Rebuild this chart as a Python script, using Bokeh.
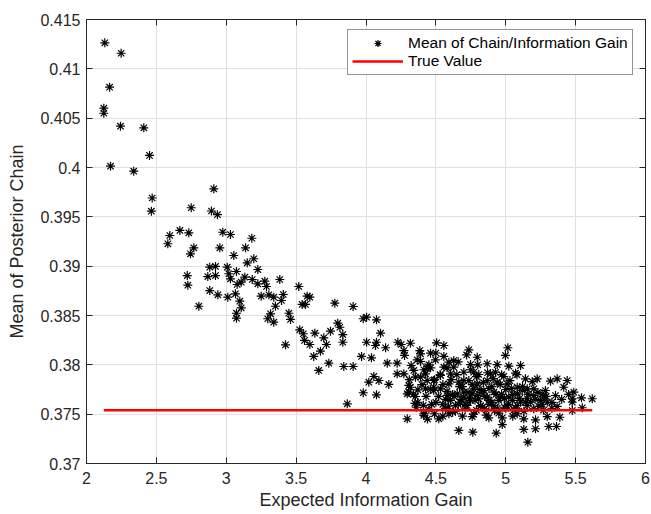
from bokeh.plotting import figure
from bokeh.models import LinearAxis, Range1d, FixedTicker, Legend, LegendItem
from bokeh.embed import file_html
from bokeh.resources import INLINE

# Expected information gain of each design and the posterior-chain mean it produced
eig = [
    2.131, 2.248, 2.165, 2.124, 2.124, 2.243, 2.410, 2.451, 2.172, 2.338,
    2.911, 2.470, 2.464, 2.749, 2.894, 2.937, 2.596, 2.582, 2.668, 2.732,
    2.975, 3.030, 3.183, 2.768, 2.744, 2.954, 3.138, 3.054, 3.197, 3.150,
    3.226, 2.882, 2.923, 3.007, 2.868, 2.923, 3.018, 3.073, 2.721, 2.725,
    3.030, 3.133, 3.078, 3.107, 3.186, 3.226, 3.276, 3.288, 3.383, 2.882,
    2.940, 3.011, 3.066, 3.097, 3.107, 3.073, 3.073, 2.804, 3.250, 3.305,
    3.340, 3.408, 3.395, 3.352, 3.317, 3.297, 3.340, 3.448, 3.460, 3.519,
    3.579, 3.598, 3.543, 3.567, 3.777, 3.908, 3.526, 3.551, 3.560, 3.634,
    3.698, 3.746, 3.798, 3.813, 3.834, 3.834, 3.717, 3.424, 3.598, 3.674,
    3.626, 3.662, 3.734, 3.841, 3.908, 3.980, 4.004, 4.075, 4.104, 4.004,
    4.075, 4.140, 4.068, 3.968, 4.039, 4.056, 4.020, 4.092, 4.163, 3.980,
    4.075, 3.866, 4.152, 4.223, 4.223, 4.271, 4.228, 4.252, 4.271, 4.318,
    4.276, 4.323, 4.342, 4.354, 4.318, 4.306, 4.354, 4.385, 4.390, 4.366,
    4.442, 4.462, 4.505, 4.557, 4.497, 4.557, 4.426, 4.390, 4.438, 4.485,
    4.371, 4.295, 4.414, 4.490, 4.521, 4.664, 4.764, 4.932, 4.736, 4.796,
    4.867, 5.015, 4.998, 4.593, 4.628, 4.939, 5.022, 5.106, 4.748, 4.438,
    4.533, 4.700, 4.807, 4.927, 4.986, 5.070, 5.141, 5.225, 5.320, 5.368,
    5.440, 5.415, 5.487, 5.542, 5.619, 5.476, 5.356, 5.201, 5.118, 4.426,
    4.485, 4.581, 4.653, 4.700, 4.796, 4.867, 4.962, 5.022, 5.082, 5.154,
    5.249, 5.297, 5.368, 5.476, 5.547, 4.414, 4.593, 4.760, 4.879, 4.975,
    4.975, 5.082, 5.129, 5.213, 5.297, 5.387, 5.308, 5.363, 5.129, 5.213,
    5.158, 4.390, 4.414, 4.462, 4.557, 4.628, 4.485, 4.605, 4.771, 4.306,
    4.533, 4.593, 4.664, 4.736, 4.796, 4.295, 4.700, 4.760, 4.605, 4.676,
    4.748, 4.807, 4.640, 4.724, 4.891, 4.867, 4.939, 5.010, 5.082, 5.154,
    5.284, 4.771, 4.843, 4.915, 5.201, 5.272, 4.879, 4.950, 5.106, 5.177,
    4.819, 4.915, 5.010, 5.082, 5.154, 5.237, 5.261, 5.476,
    4.569, 4.450, 4.640, 4.710, 4.790, 4.850, 4.920, 5.000, 5.060, 5.130,
    5.200, 5.270, 5.330, 4.360, 4.500, 4.550, 4.410, 4.350, 4.620, 4.690,
    4.740, 4.830, 4.900, 4.970, 5.050, 4.580, 4.660, 4.880, 5.040, 4.990,
    4.310, 4.340, 4.370, 4.400, 4.430, 4.460, 4.470, 4.490, 4.520, 4.530,
    4.550, 4.570, 4.590, 4.610, 4.630, 4.650, 4.670, 4.680, 4.700, 4.710,
    4.730, 4.750, 4.760, 4.780, 4.790, 4.810, 4.820, 4.840, 4.850, 4.870,
    4.880, 4.900, 4.910, 4.930, 4.940, 4.960, 4.970, 4.990, 5.000, 5.020,
    5.030, 5.050, 5.070, 5.080, 5.100, 5.120, 5.140, 5.160, 5.190, 5.210,
    5.230, 5.260, 5.290, 5.330, 5.400, 5.450, 4.580, 4.660, 4.720, 4.800,
    4.450, 4.500, 4.620, 4.690, 4.770, 4.860, 4.950, 5.050, 4.440, 4.550,
]
post_mean = [
    0.41264, 0.41158, 0.40814, 0.40601, 0.40550, 0.40419, 0.40402, 0.40122, 0.40013, 0.39963,
    0.39784, 0.39691, 0.39557, 0.39592, 0.39559, 0.39522, 0.39311, 0.39227, 0.39362, 0.39338,
    0.39344, 0.39321, 0.39283, 0.39186, 0.39125, 0.39186, 0.39186, 0.39108, 0.39075, 0.39034,
    0.38966, 0.38990, 0.38997, 0.38990, 0.38895, 0.38905, 0.38923, 0.38946, 0.38905, 0.38807,
    0.38872, 0.38888, 0.38814, 0.38838, 0.38865, 0.38821, 0.38848, 0.38794, 0.38865, 0.38753,
    0.38710, 0.38686, 0.38720, 0.38645, 0.38578, 0.38523, 0.38473, 0.38594, 0.38696, 0.38710,
    0.38686, 0.38713, 0.38652, 0.38594, 0.38517, 0.38467, 0.38432, 0.38523, 0.38460, 0.38794,
    0.38696, 0.38686, 0.38612, 0.38612, 0.38625, 0.38591, 0.38355, 0.38315, 0.38247, 0.38321,
    0.38274, 0.38341, 0.38422, 0.38381, 0.38307, 0.38229, 0.38206, 0.38203, 0.38206, 0.38138,
    0.38085, 0.37943, 0.38017, 0.37983, 0.37983, 0.38467, 0.38483, 0.38456, 0.38321, 0.38229,
    0.38229, 0.38173, 0.38196, 0.38085, 0.38071, 0.37882, 0.37824, 0.37841, 0.37801, 0.37717,
    0.37696, 0.37605, 0.38017, 0.38017, 0.37909, 0.37909, 0.38229, 0.38206, 0.38145, 0.38219,
    0.38095, 0.37993, 0.37943, 0.37875, 0.37773, 0.37723, 0.37679, 0.38145, 0.38112, 0.38051,
    0.37983, 0.38118, 0.38223, 0.38196, 0.38051, 0.38085, 0.37909, 0.37875, 0.37841, 0.37773,
    0.37747, 0.37453, 0.37504, 0.37504, 0.37453, 0.37335, 0.37317, 0.37307, 0.38152, 0.38077,
    0.38011, 0.38173, 0.38095, 0.38027, 0.38044, 0.38003, 0.37986, 0.37993, 0.38003, 0.37960,
    0.37892, 0.37925, 0.37902, 0.37925, 0.37882, 0.37915, 0.37858, 0.37858, 0.37834, 0.37858,
    0.37841, 0.37773, 0.37723, 0.37666, 0.37656, 0.37656, 0.37689, 0.37757, 0.37740, 0.37757,
    0.37740, 0.37689, 0.37706, 0.37672, 0.37689, 0.37672, 0.37672, 0.37672, 0.37706, 0.37656,
    0.37639, 0.37621, 0.37578, 0.37537, 0.37565, 0.37487, 0.37504, 0.37476, 0.37463, 0.37463,
    0.37395, 0.37504, 0.37453, 0.37443, 0.37476, 0.37469, 0.37375, 0.37375, 0.37345, 0.37352,
    0.37216, 0.38034, 0.37950, 0.37970, 0.37976, 0.37976, 0.37841, 0.37909, 0.37925, 0.37791,
    0.37757, 0.37808, 0.37824, 0.37841, 0.37808, 0.37706, 0.37723, 0.37706, 0.37639, 0.37621,
    0.37639, 0.37656, 0.37588, 0.37588, 0.37909, 0.37841, 0.37824, 0.37808, 0.37773, 0.37757,
    0.37740, 0.37757, 0.37740, 0.37723, 0.37689, 0.37672, 0.37639, 0.37639, 0.37621, 0.37621,
    0.37588, 0.37588, 0.37588, 0.37588, 0.37588, 0.37578, 0.37706, 0.37621,
    0.37558, 0.37550, 0.37530, 0.37560, 0.37540, 0.37555, 0.37535, 0.37560, 0.37545, 0.37530,
    0.37555, 0.37540, 0.37560, 0.37570, 0.37620, 0.37600, 0.37590, 0.37610, 0.37700, 0.37780,
    0.37660, 0.37720, 0.37780, 0.37700, 0.37640, 0.37730, 0.37600, 0.37600, 0.37760, 0.37570,
    0.37850, 0.37700, 0.37620, 0.37800, 0.37680, 0.37750, 0.37600, 0.37850, 0.37680, 0.37900,
    0.37800, 0.37650, 0.37580, 0.37850, 0.37680, 0.37900, 0.37780, 0.37650, 0.37840, 0.37600,
    0.37720, 0.37950, 0.37800, 0.37640, 0.37880, 0.37750, 0.37580, 0.37820, 0.37680, 0.37920,
    0.37760, 0.37620, 0.37860, 0.37700, 0.37560, 0.37800, 0.37900, 0.37660, 0.37750, 0.37600,
    0.37840, 0.37700, 0.37560, 0.37900, 0.37660, 0.37780, 0.37620, 0.37700, 0.37830, 0.37650,
    0.37720, 0.37600, 0.37680, 0.37620, 0.37650, 0.37700, 0.37970, 0.38030, 0.38100, 0.38000,
    0.38000, 0.38120, 0.37520, 0.37480, 0.37500, 0.37490, 0.37510, 0.37480, 0.37450, 0.37480,
]

true_value = 0.3754

x_ticks = [2, 2.5, 3, 3.5, 4, 4.5, 5, 5.5, 6]
x_tick_labels = ["2", "2.5", "3", "3.5", "4", "4.5", "5", "5.5", "6"]
y_ticks = [0.37, 0.375, 0.38, 0.385, 0.39, 0.395, 0.4, 0.405, 0.41, 0.415]
y_tick_labels = ["0.37", "0.375", "0.38", "0.385", "0.39", "0.395", "0.4", "0.405", "0.41", "0.415"]

FONT = "Liberation Sans"
INK = "#262626"

p = figure(
    width=651, height=514,
    x_range=Range1d(2, 6), y_range=Range1d(0.37, 0.415),
    output_backend="svg", toolbar_location=None,
    min_border_left=86, min_border_right=6, min_border_top=19, min_border_bottom=51,
    x_axis_label="Expected Information Gain",
    y_axis_label="Mean of Posterior Chain",
)
p.background_fill_color = "white"
p.border_fill_color = "white"
p.outline_line_color = INK
p.outline_line_width = 1
p.outline_line_alpha = 1

for grid in (p.xgrid[0], p.ygrid[0]):
    grid.grid_line_color = "#dfdfdf"
    grid.grid_line_width = 1
p.xgrid[0].ticker = FixedTicker(ticks=x_ticks)
p.ygrid[0].ticker = FixedTicker(ticks=y_ticks)


def style_axis(ax, ticks, labels, show_labels=True):
    ax.ticker = FixedTicker(ticks=ticks)
    ax.major_label_overrides = {t: s for t, s in zip(ticks, labels)}
    ax.major_tick_in = 6
    ax.major_tick_out = 0
    ax.minor_tick_in = 0
    ax.minor_tick_out = 0
    ax.major_tick_line_color = INK
    ax.axis_line_color = INK
    ax.major_label_text_font = FONT
    ax.major_label_text_color = INK
    if show_labels:
        ax.major_label_text_font_size = "16px"
    else:
        ax.major_label_text_font_size = "0px"
        ax.major_label_standoff = 0
    ax.axis_label_text_font = FONT
    ax.axis_label_text_font_size = "18px"
    ax.axis_label_text_font_style = "normal"
    ax.axis_label_text_color = INK


style_axis(p.xaxis[0], x_ticks, x_tick_labels)
style_axis(p.yaxis[0], y_ticks, y_tick_labels)
p.xaxis[0].major_label_standoff = 8
p.xaxis[0].axis_label_standoff = 3
p.yaxis[0].major_label_standoff = 6
p.yaxis[0].axis_label_standoff = 10

# mirrored tick marks along the top and right edges of the box
top_axis = LinearAxis()
right_axis = LinearAxis()
style_axis(top_axis, x_ticks, [""] * len(x_ticks), show_labels=False)
style_axis(right_axis, y_ticks, [""] * len(y_ticks), show_labels=False)
p.add_layout(top_axis, "above")
p.add_layout(right_axis, "right")

pts = p.scatter(eig, post_mean, marker="asterisk", size=9,
                line_color="black", line_width=1.2)
truth = p.line([min(eig), max(eig)], [true_value, true_value],
               line_color="#ff0000", line_width=2.5)

legend = Legend(
    items=[
        LegendItem(label="Mean of Chain/Information Gain", renderers=[pts]),
        LegendItem(label="True Value", renderers=[truth]),
    ],
    location=(261, 388),
    margin=0,
    padding=4,
    spacing=0,
    glyph_width=51,
    glyph_height=18,
    label_height=18,
    label_standoff=5,
    label_text_font=FONT,
    label_text_font_size="15.5px",
    label_text_color="black",
    border_line_color=INK,
    border_line_width=1,
    background_fill_color="white",
    background_fill_alpha=1,
)
p.add_layout(legend)

open("out.html", "w").write(file_html(p, INLINE))
